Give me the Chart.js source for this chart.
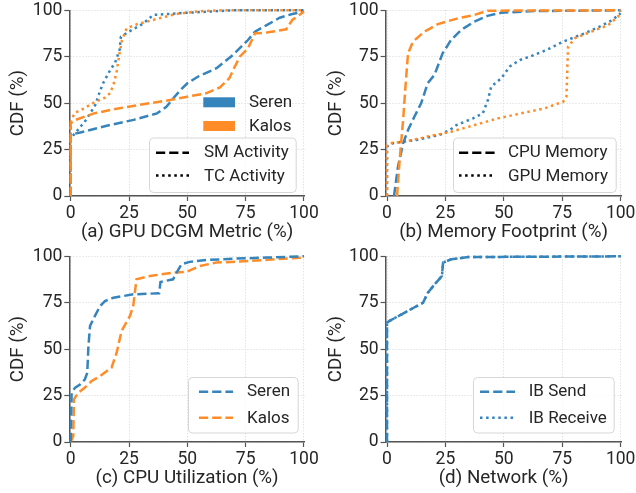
<!DOCTYPE html>
<html>
<head>
<meta charset="utf-8">
<script src="https://cdn.jsdelivr.net/npm/chart.js@4.4.1/dist/chart.umd.min.js"></script>
<style>
  html, body { margin: 0; padding: 0; background: #ffffff; }
  #wrap { position: relative; width: 636px; height: 493px; overflow: hidden; }
  canvas { position: absolute; }
</style>
</head>
<body>
<div id="wrap">
  <canvas id="ca" width="318" height="246" style="left:0px;top:0px"></canvas>
  <canvas id="cb" width="318" height="246" style="left:318px;top:0px"></canvas>
  <canvas id="cc" width="318" height="246" style="left:0px;top:246px"></canvas>
  <canvas id="cd" width="318" height="246" style="left:318px;top:246px"></canvas>
</div>
<script>
// ---------- tick labels / text ----------
const xTicks = [0, 25, 50, 75, 100];
const yTicks = [0, 25, 50, 75, 100];
const yTitle = 'CDF (%)';
const xTitles = ['(a) GPU DCGM Metric (%)', '(b) Memory Footprint (%)', '(c) CPU Utilization (%)', '(d) Network (%)'];
const systems = ['Seren', 'Kalos'];
const dcgmMetrics = ['SM Activity', 'TC Activity'];
const memoryKinds = ['CPU Memory', 'GPU Memory'];
const networkKinds = ['IB Send', 'IB Receive'];

// ---------- (a) GPU DCGM metric ----------
const serenSmX = [0, 0, 5, 15, 27, 37, 41, 44, 47, 50, 55, 62.5, 69.6, 76, 79, 84, 89.6, 95, 100];
const serenSmY = [0, 33, 34.5, 37.7, 41, 44.5, 48, 52.6, 57, 60.7, 64.6, 68.8, 76, 84, 88.5, 92, 96, 98, 99.3];
const kalosSmX = [0, 0, 1, 10, 19.7, 31, 41, 50, 58, 64, 68, 70, 72.5, 76, 79, 84, 92.4, 95, 98, 100];
const kalosSmY = [0, 39, 40.5, 44.5, 47, 49.4, 51.3, 53.5, 55.3, 58.5, 63.4, 68.8, 75, 79.5, 87.6, 88, 89.8, 94.8, 97.5, 99.3];
const serenTcX = [0, 0, 3.6, 6.7, 10.5, 12.7, 14, 17, 19, 21, 21.5, 24, 26.5, 31, 35.4, 50, 70, 100];
const serenTcY = [0, 31, 36.4, 41.2, 48.9, 57, 61, 68, 71.7, 78.9, 85.7, 87.8, 89.6, 92.8, 97.5, 98.7, 100, 100];
const kalosTcX = [0, 0, 0.5, 1.9, 5.5, 10.5, 14.8, 17, 18.7, 19.8, 20.8, 22, 24, 28.4, 32, 45, 55, 65, 100];
const kalosTcY = [0, 40, 41.8, 44.8, 47.1, 50.7, 53, 55.5, 61.5, 67.7, 75.8, 83.9, 90.3, 92.5, 93.7, 98, 99.5, 100, 100];

// ---------- (b) Memory footprint ----------
const serenCpuMemX = [3, 4.7, 6.9, 9, 11.7, 14.6, 17.4, 20.3, 23.8, 27.4, 31.7, 37.4, 43, 48.9, 63, 100];
const serenCpuMemY = [0, 15.8, 28.4, 35.5, 42.7, 49.9, 60.7, 65.2, 76.8, 84, 89.4, 93.9, 97, 98.7, 99.6, 100];
const kalosCpuMemX = [4.3, 5.4, 6.9, 7.9, 9, 11.1, 16, 21.8, 30.4, 37.4, 43, 100];
const kalosCpuMemY = [0, 19.4, 40.9, 58.9, 76.8, 83.1, 88.5, 92.6, 95.7, 97.5, 99.8, 100];
const serenGpuMemX = [0, 0, 2.6, 12.6, 22.5, 26.8, 29.7, 36.8, 41, 43.2, 44.6, 48.9, 52.5, 56.8, 61, 68.2, 75.3, 84.6, 91, 95.9, 100];
const serenGpuMemY = [0, 26.6, 28.4, 30.2, 32.9, 35.5, 38.2, 41.8, 44.5, 51.7, 58.9, 63.4, 69.7, 73.2, 75, 78.6, 83.1, 87.6, 91.2, 94.4, 98.4];
const kalosGpuMemX = [0, 0, 1.1, 7.6, 17.5, 27.5, 37.5, 47.4, 57.4, 67.5, 75.4, 76.8, 77.2, 77.5, 80.3, 87.4, 94.6, 98.9, 99.6, 100];
const kalosGpuMemY = [0, 27, 28.4, 29.3, 32, 34.6, 38.2, 41.8, 44.5, 47.2, 50.8, 53.5, 69.7, 80.4, 84.9, 88.5, 92, 96.6, 98.4, 100];

// ---------- (c) CPU utilization ----------
const serenCpuUtilX = [0, 0.4, 1.9, 4, 6.1, 7.1, 7.6, 8.3, 10.4, 12.6, 14.7, 18.3, 26.8, 37.9, 38.5, 43.9, 45.4, 47.5, 51, 58.2, 69.6, 83.9, 100];
const serenCpuUtilY = [0, 26.6, 29.3, 31, 33.8, 37.3, 51.7, 62.5, 67.9, 73.2, 75.9, 77.7, 79.5, 80.1, 86.2, 87.6, 91.2, 95.7, 97, 98, 98.7, 99.3, 100];
const kalosCpuUtilX = [0, 1.1, 1.4, 3.3, 6.1, 9, 12.6, 17.5, 19.7, 21.8, 25.4, 26.8, 28.2, 34, 43.9, 49.6, 55.3, 62.5, 76.7, 91, 100];
const kalosCpuUtilY = [0, 3.2, 23, 26.6, 29.3, 32.9, 35.5, 40, 48.1, 59.8, 67.9, 73.2, 87.6, 89.4, 91.2, 91.6, 94.8, 96.6, 97.5, 98.7, 99.3];

// ---------- (d) Network ----------
const ibSendX = [0, 0, 1.1, 7.6, 15.4, 17.5, 20.4, 23.5, 24, 27.5, 34.7, 100];
const ibSendY = [0, 64.3, 65.2, 69.7, 75, 80.4, 84.9, 89.4, 96.6, 98.4, 99.6, 100];
const ibRecvX = [0, 0, 1.1, 7.6, 15.4, 17.5, 20.4, 23.5, 24, 27.5, 34.7, 100];
const ibRecvY = [0, 64.3, 65.2, 69.7, 75, 80.4, 84.9, 89.4, 96.6, 98.4, 99.6, 100];

// ---------- styles ----------
const BLUE = '#3584bc';
const ORANGE = '#ff8c26';
const TEXT = '#262626';
const DASH = [9.2, 4];
const DOT = [2.5, 3.6];
const FONT = 'Roboto, "Liberation Sans", sans-serif';

function pts(xs, ys) { return xs.map((v, i) => ({ x: v, y: ys[i] })); }

const legendPlugin = {
  id: 'panelLegends',
  afterDraw(chart, args, opts) {
    const ctx = chart.ctx;
    (opts.boxes || []).forEach(b => {
      ctx.save();
      if (b.frame) {
        const [x0, y0, x1, y1] = b.frame;
        ctx.beginPath();
        ctx.roundRect(x0 + 0.5, y0 + 0.5, x1 - x0, y1 - y0, 4);
        ctx.fillStyle = 'rgba(255,255,255,0.8)';
        ctx.fill();
        ctx.strokeStyle = '#d6d6d6';
        ctx.lineWidth = 1;
        ctx.stroke();
      }
      b.items.forEach(it => {
        if (it.patch) {
          ctx.fillStyle = it.color;
          ctx.fillRect(it.x0, it.y - 5, it.x1 - it.x0, 10);
        } else {
          ctx.beginPath();
          ctx.setLineDash(it.dash);
          ctx.lineWidth = 2.5;
          ctx.strokeStyle = it.color;
          ctx.moveTo(it.x0, it.y);
          ctx.lineTo(it.x1, it.y);
          ctx.stroke();
          ctx.setLineDash([]);
        }
        ctx.fillStyle = TEXT;
        ctx.font = '17px ' + FONT;
        ctx.textBaseline = 'middle';
        ctx.textAlign = 'left';
        ctx.fillText(it.text, it.tx, it.ty);
      });
      ctx.restore();
    });
  }
};

function makeChart(id, cfg) {
  const datasets = cfg.series.map(s => ({
    label: s.label,
    data: pts(s.x, s.y),
    borderColor: s.color,
    backgroundColor: s.color,
    borderWidth: 2.5,
    borderDash: s.dash,
    borderCapStyle: 'butt',
    pointRadius: 0,
    tension: 0,
    fill: false,
    clip: 8
  }));
  const tickFont = { family: FONT, size: 17.5 };
  const titleFont = { family: FONT, size: 18.8 };
  return new Chart(document.getElementById(id), {
    type: 'line',
    data: { datasets },
    options: {
      responsive: false,
      animation: false,
      events: [],
      layout: { padding: { top: 10.3, right: cfg.right, left: 0, bottom: 0 } },
      plugins: {
        legend: { display: false },
        tooltip: { enabled: false },
        panelLegends: { boxes: cfg.legends }
      },
      scales: {
        x: {
          type: 'linear',
          min: -0.6,
          max: 100.4,
          afterBuildTicks: s => { s.ticks = xTicks.map(v => ({ value: v })); },
          afterFit: s => { s.height = 50; s.paddingLeft = 0; s.paddingRight = 0; },
          grid: { color: '#d4d4d4', lineWidth: 1, borderDash: [1, 2], tickLength: 5, tickColor: '#555555', tickWidth: 1.2, tickBorderDash: [] },
          border: { display: true, color: '#555555', width: 1.5, dash: [1, 2] },
          ticks: { padding: 2.5, color: TEXT, font: tickFont, maxRotation: 0, autoSkip: false },
          title: { display: true, text: cfg.xTitle, color: TEXT, font: titleFont, padding: { top: 0, bottom: 2.3 } }
        },
        y: {
          type: 'linear',
          min: 0,
          max: 100,
          afterBuildTicks: s => { s.ticks = yTicks.map(v => ({ value: v })); },
          afterFit: s => { s.width = cfg.left; s.paddingTop = 0; s.paddingBottom = 0; },
          grid: { color: '#d4d4d4', lineWidth: 1, borderDash: [1, 2], tickLength: 5, tickColor: '#555555', tickWidth: 1.2, tickBorderDash: [] },
          border: { display: true, color: '#555555', width: 1.5, dash: [1, 2] },
          ticks: { padding: 2, color: TEXT, font: tickFont, autoSkip: false },
          title: { display: true, text: yTitle, color: TEXT, font: titleFont, padding: { top: 6.7, bottom: 0 } }
        }
      }
    },
    plugins: [legendPlugin]
  });
}

// (a)
makeChart('ca', {
  left: 69.3, right: 13.1, xTitle: xTitles[0],
  series: [
    { label: systems[1] + ' ' + dcgmMetrics[0], x: kalosSmX, y: kalosSmY, color: ORANGE, dash: DASH },
    { label: systems[0] + ' ' + dcgmMetrics[0], x: serenSmX, y: serenSmY, color: BLUE, dash: DASH },
    { label: systems[1] + ' ' + dcgmMetrics[1], x: kalosTcX, y: kalosTcY, color: ORANGE, dash: DOT },
    { label: systems[0] + ' ' + dcgmMetrics[1], x: serenTcX, y: serenTcY, color: BLUE, dash: DOT }
  ],
  legends: [
    { items: [
      { patch: true, color: BLUE, x0: 203.3, x1: 235, y: 102.3, text: systems[0], tx: 249, ty: 102.7 },
      { patch: true, color: ORANGE, x0: 203.3, x1: 235, y: 126, text: systems[1], tx: 249, ty: 126.7 }
    ] },
    { frame: [149, 137.5, 295.7, 192], items: [
      { color: '#000000', dash: DASH, x0: 156, x1: 189, y: 152.7, text: dcgmMetrics[0], tx: 204, ty: 152.7 },
      { color: '#000000', dash: DOT, x0: 156, x1: 189, y: 175.5, text: dcgmMetrics[1], tx: 204, ty: 177 }
    ] }
  ]
});

// (b)
makeChart('cb', {
  left: 67.6, right: 14.4, xTitle: xTitles[1],
  series: [
    { label: systems[1] + ' ' + memoryKinds[0], x: kalosCpuMemX, y: kalosCpuMemY, color: ORANGE, dash: DASH },
    { label: systems[0] + ' ' + memoryKinds[0], x: serenCpuMemX, y: serenCpuMemY, color: BLUE, dash: DASH },
    { label: systems[1] + ' ' + memoryKinds[1], x: kalosGpuMemX, y: kalosGpuMemY, color: ORANGE, dash: DOT },
    { label: systems[0] + ' ' + memoryKinds[1], x: serenGpuMemX, y: serenGpuMemY, color: BLUE, dash: DOT }
  ],
  legends: [
    { frame: [135, 137.5, 297.7, 192], items: [
      { color: '#000000', dash: DASH, x0: 141, x1: 177, y: 152.7, text: memoryKinds[0], tx: 190, ty: 152.7 },
      { color: '#000000', dash: DOT, x0: 141, x1: 177, y: 175.5, text: memoryKinds[1], tx: 190, ty: 177 }
    ] }
  ]
});

// (c)
makeChart('cc', {
  left: 69.3, right: 13.1, xTitle: xTitles[2],
  series: [
    { label: systems[0], x: serenCpuUtilX, y: serenCpuUtilY, color: BLUE, dash: DASH },
    { label: systems[1], x: kalosCpuUtilX, y: kalosCpuUtilY, color: ORANGE, dash: DASH }
  ],
  legends: [
    { frame: [188, 131, 297.7, 186.5], items: [
      { color: BLUE, dash: DASH, x0: 199, x1: 233, y: 145.7, text: systems[0], tx: 247, ty: 146 },
      { color: ORANGE, dash: DASH, x0: 199, x1: 233, y: 171.7, text: systems[1], tx: 247, ty: 172.4 }
    ] }
  ]
});

// (d)
makeChart('cd', {
  left: 67.6, right: 14.4, xTitle: xTitles[3],
  series: [
    { label: networkKinds[0], x: ibSendX, y: ibSendY, color: BLUE, dash: DASH },
    { label: networkKinds[1], x: ibRecvX, y: ibRecvY, color: BLUE, dash: DOT }
  ],
  legends: [
    { frame: [155, 131, 295.7, 186.5], items: [
      { color: BLUE, dash: DASH, x0: 162, x1: 197, y: 145.7, text: networkKinds[0], tx: 210.7, ty: 146 },
      { color: BLUE, dash: DOT, x0: 162, x1: 197, y: 171.7, text: networkKinds[1], tx: 210.7, ty: 172.4 }
    ] }
  ]
});
</script>
</body>
</html>
